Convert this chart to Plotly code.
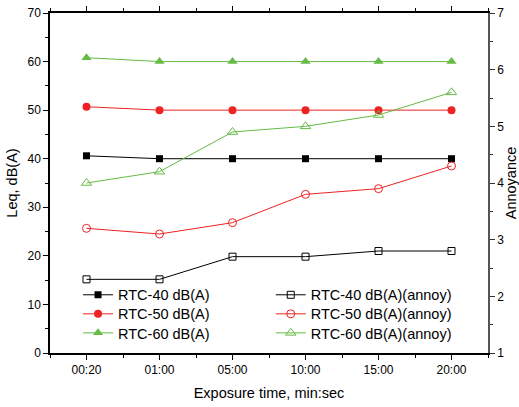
import plotly.graph_objects as go

# Exposure times (min:sec)
times = ["00:20", "01:00", "05:00", "10:00", "15:00", "20:00"]

# Measured equivalent level, dB(A)
leq_rtc40 = [40.6, 40.0, 40.0, 40.0, 40.0, 40.0]
leq_rtc50 = [50.7, 50.0, 50.0, 50.0, 50.0, 50.0]
leq_rtc60 = [60.8, 60.0, 60.0, 60.0, 60.0, 60.0]

# Annoyance ratings
ann_rtc40 = [2.3, 2.3, 2.7, 2.7, 2.8, 2.8]
ann_rtc50 = [3.2, 3.1, 3.3, 3.8, 3.9, 4.3]
ann_rtc60 = [4.0, 4.2, 4.9, 5.0, 5.2, 5.6]

BLACK = "#000000"
RED = "#ee2222"
GREEN = "#66bb44"
FONT = "Liberation Sans, Arial, sans-serif"

x = list(range(len(times)))

fig = go.Figure()

# one legend box per entry so the rows sit tightly, two columns
level_series = [
    ("RTC-40 dB(A)", leq_rtc40, BLACK, "square", 7, "legend"),
    ("RTC-50 dB(A)", leq_rtc50, RED, "circle", 8, "legend2"),
    ("RTC-60 dB(A)", leq_rtc60, GREEN, "triangle-up", 9, "legend3"),
]
for name, vals, col, sym, sz, leg in level_series:
    fig.add_trace(go.Scatter(
        x=x, y=vals, name=name, mode="lines+markers",
        line=dict(color=col, width=1),
        marker=dict(symbol=sym, size=sz, color=col, line=dict(width=0)),
        legend=leg,
    ))

annoy_series = [
    ("RTC-40 dB(A)(annoy)", ann_rtc40, BLACK, "square-open", 7, "legend4"),
    ("RTC-50 dB(A)(annoy)", ann_rtc50, RED, "circle-open", 8, "legend5"),
    ("RTC-60 dB(A)(annoy)", ann_rtc60, GREEN, "triangle-up-open", 9, "legend6"),
]
for name, vals, col, sym, sz, leg in annoy_series:
    fig.add_trace(go.Scatter(
        x=x, y=vals, name=name, mode="lines+markers",
        line=dict(color=col, width=1),
        marker=dict(symbol=sym, size=sz, color=col, line=dict(width=1, color=col)),
        yaxis="y2", legend=leg,
    ))

tickfont = dict(family=FONT, size=12, color="#000")
titlefont = dict(family=FONT, size=14.5, color="#000")
legfont = dict(family=FONT, size=14.5, color="#000")

row_y = [0.171, 0.115, 0.059]
col_x = [0.064, 0.504]


def legend_box(cx, cy):
    return dict(
        x=cx, y=cy, xanchor="left", yanchor="middle",
        bgcolor="rgba(0,0,0,0)", borderwidth=0, font=legfont,
        itemwidth=30,
    )


fig.update_layout(
    width=519, height=407,
    margin=dict(l=50, r=31, t=13, b=54, autoexpand=False),
    paper_bgcolor="white", plot_bgcolor="white",
    font=dict(family=FONT, color="#000"),
    xaxis=dict(
        range=[-0.5, 5.5], automargin=False,
        tickmode="array", tickvals=x, ticktext=times,
        ticks="outside", ticklen=5, tickwidth=1, tickcolor="#000",
        minor=dict(tickmode="array", tickvals=[i + 0.5 for i in range(-1, 6)],
                   ticks="outside", ticklen=3, tickcolor="#000"),
        showline=True, linecolor="#000", linewidth=1.5, mirror="ticks",
        showgrid=False, zeroline=False,
        tickfont=tickfont,
        title=dict(text="Exposure time, min:sec", font=titlefont, standoff=12),
    ),
    yaxis=dict(
        range=[0, 70], dtick=10, automargin=False,
        ticks="outside", ticklen=5, tickwidth=1, tickcolor="#000",
        minor=dict(dtick=5, ticks="outside", ticklen=3, tickcolor="#000"),
        showline=True, linecolor="#000", linewidth=1.5,
        showgrid=False, zeroline=False,
        tickfont=tickfont,
        title=dict(text="Leq, dB(A)", font=titlefont, standoff=6),
    ),
    yaxis2=dict(
        range=[1, 7], dtick=1, overlaying="y", side="right", automargin=False,
        ticks="outside", ticklen=5, tickwidth=1, tickcolor="#333",
        minor=dict(dtick=0.5, ticks="outside", ticklen=3, tickcolor="#333"),
        showline=True, linecolor="#555", linewidth=1.5,
        showgrid=False, zeroline=False,
        tickfont=tickfont,
        title=dict(text="Annoyance", font=titlefont, standoff=7),
    ),
    legend=legend_box(col_x[0], row_y[0]),
    legend2=legend_box(col_x[0], row_y[1]),
    legend3=legend_box(col_x[0], row_y[2]),
    legend4=legend_box(col_x[1], row_y[0]),
    legend5=legend_box(col_x[1], row_y[1]),
    legend6=legend_box(col_x[1], row_y[2]),
    showlegend=True,
)

fig.write_html("out.html")
